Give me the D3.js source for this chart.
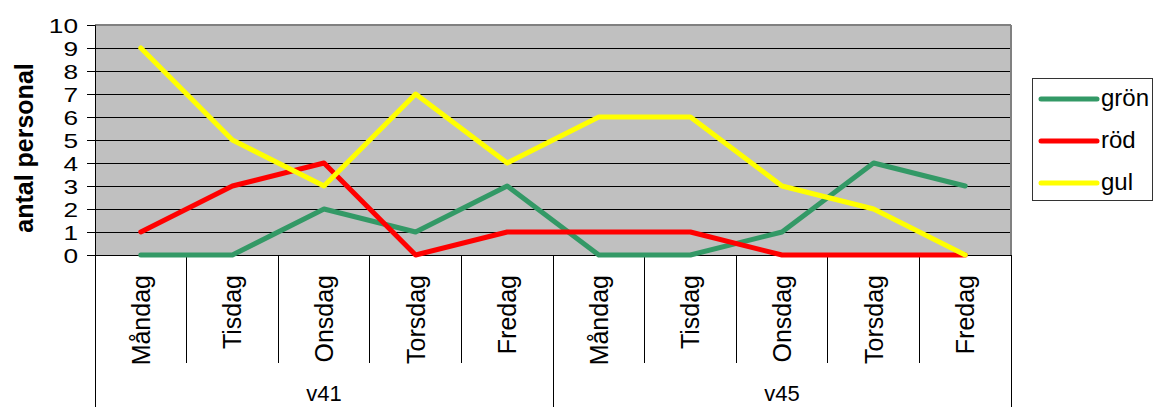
<!DOCTYPE html>
<html>
<head>
<meta charset="utf-8">
<script src="https://cdn.jsdelivr.net/npm/d3@7/dist/d3.min.js"></script>
<style>
html,body{margin:0;padding:0;background:#fff;}
svg{display:block;font-family:"Liberation Sans",Arial,sans-serif;}
</style>
</head>
<body>
<svg id="chart" width="1154" height="407"></svg>
<script>
const days = ["Måndag","Tisdag","Onsdag","Torsdag","Fredag","Måndag","Tisdag","Onsdag","Torsdag","Fredag"];
const weeks = ["v41","v45"];
const seriesNames = ["grön","röd","gul"];
const seriesColors = ["#339966","#FF0000","#FFFF00"];
const gron = [0,0,2,1,3,0,0,1,4,3];
const rod  = [1,3,4,0,1,1,1,0,0,0];
const gul  = [9,5,3,7,4,6,6,3,2,0];
const yTicks = [0,1,2,3,4,5,6,7,8,9,10];
const yTitle = "antal personal";

const series = [gron, rod, gul];
const svg = d3.select("#chart");
const L = 95, R = 1011, T = 25, B = 255;
const idx = days.map((d,i)=>i);
const x = d3.scaleBand().domain(idx).range([L,R]).paddingInner(0).paddingOuter(0);
const y = d3.scaleLinear().domain([0,10]).range([B,T]);

// plot background
svg.append("rect").attr("x",L).attr("y",T).attr("width",R-L).attr("height",B-T).attr("fill","#C0C0C0");

// gridlines
svg.append("g").selectAll("line").data(yTicks.filter(v=>v>0 && v<10)).join("line")
  .attr("x1",L).attr("x2",R).attr("y1",d=>y(d)).attr("y2",d=>y(d))
  .attr("stroke","#000").attr("stroke-width",1).attr("shape-rendering","crispEdges");

// plot border top/right
svg.append("line").attr("x1",L).attr("x2",R).attr("y1",T).attr("y2",T).attr("stroke","#808080").attr("stroke-width",2);
svg.append("line").attr("x1",R).attr("x2",R).attr("y1",T).attr("y2",B).attr("stroke","#808080").attr("stroke-width",2);

// y axis
const yAxis = d3.axisLeft(y).tickValues(yTicks).tickSize(8).tickFormat("");
const yg = svg.append("g").attr("transform",`translate(${L},0)`).call(yAxis);
yg.select(".domain").attr("stroke","#000");
yg.selectAll(".tick line").attr("stroke","#000");
svg.append("g").selectAll("text").data(yTicks).join("text")
  .attr("transform",d=>`translate(78,${y(d)}) scale(1.25,1)`)
  .attr("text-anchor","end").attr("dy","0.36em")
  .attr("font-size",21).attr("fill","#000").text(d=>d);

// y title
svg.append("text").attr("transform",`translate(24,${(T+B)/2+8}) rotate(-90)`)
  .attr("text-anchor","middle").attr("dy","0.35em")
  .attr("font-size",25).attr("font-weight","bold").text(yTitle);

// category axis line
svg.append("line").attr("x1",L-8).attr("x2",R).attr("y1",B).attr("y2",B).attr("stroke","#000").attr("stroke-width",1).attr("shape-rendering","crispEdges");

// category separators
const bounds = d3.range(days.length+1);
svg.append("g").selectAll("line").data(bounds).join("line")
  .attr("x1",d=> d===days.length ? R : x(d)).attr("x2",d=> d===days.length ? R : x(d))
  .attr("y1",B).attr("y2",d=> (d%5===0) ? 407 : 363)
  .attr("stroke","#000").attr("stroke-width",1).attr("shape-rendering","crispEdges");

// day labels
svg.append("g").selectAll("text").data(days).join("text")
  .attr("transform",(d,i)=>`translate(${x(i)+x.bandwidth()/2},275) rotate(-90)`)
  .attr("text-anchor","end").attr("dy","0.36em")
  .attr("font-size",25).attr("fill","#000").text(d=>d);

// week labels
svg.append("g").selectAll("text").data(weeks).join("text")
  .attr("x",(d,i)=> (x(i*5) + (i===1 ? R : x(5)))/2)
  .attr("y",401).attr("text-anchor","middle")
  .attr("font-size",22).attr("fill","#000").text(d=>d);

// lines
const line = d3.line().x((d,i)=>x(i)+x.bandwidth()/2).y(d=>y(d));
svg.append("g").selectAll("path").data(series).join("path")
  .attr("d",d=>line(d)).attr("fill","none")
  .attr("stroke",(d,i)=>seriesColors[i]).attr("stroke-width",5)
  .attr("stroke-linejoin","round").attr("stroke-linecap","round");

// legend
const lg = svg.append("g");
lg.append("rect").attr("x",1032.5).attr("y",78.5).attr("width",120).attr("height",122)
  .attr("fill","#fff").attr("stroke","#333").attr("stroke-width",1);
const items = lg.selectAll("g").data(seriesNames).join("g")
  .attr("transform",(d,i)=>`translate(0,${99+i*42})`);
items.append("line").attr("x1",1041).attr("x2",1097).attr("y1",0).attr("y2",0)
  .attr("stroke",(d,i)=>seriesColors[i]).attr("stroke-width",5).attr("stroke-linecap","round");
items.append("text").attr("x",1101).attr("dy","0.3em").attr("font-size",24).attr("fill","#000").text(d=>d);
</script>
</body>
</html>
